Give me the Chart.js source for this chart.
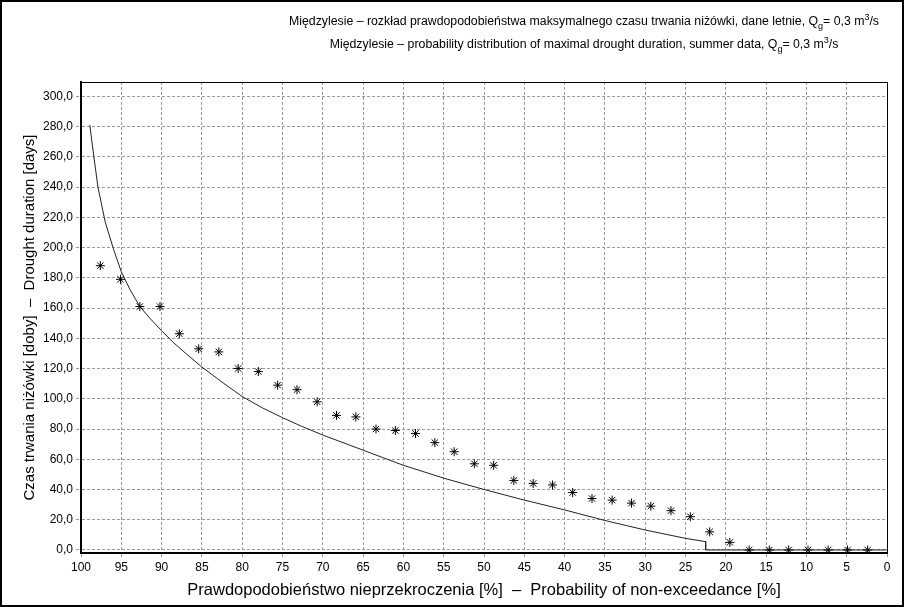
<!DOCTYPE html>
<html>
<head>
<meta charset="utf-8">
<script src="https://cdn.jsdelivr.net/npm/chart.js@4.4.1/dist/chart.umd.min.js"></script>
<style>
  html, body { margin: 0; padding: 0; background: #fff; }
  canvas { display: block; }
</style>
</head>
<body>
<canvas id="chart" width="904" height="607"></canvas>
<script>
const FONT = "'Liberation Sans', Arial, sans-serif";

// Observed summer maxima: plotting position [%] and drought duration [days]
const observedProbability = [97.6, 95.1, 92.7, 90.2, 87.8, 85.4, 82.9, 80.5, 78.0, 75.6,
                             73.2, 70.7, 68.3, 65.9, 63.4, 61.0, 58.5, 56.1, 53.7, 51.2,
                             48.8, 46.3, 43.9, 41.5, 39.0, 36.6, 34.1, 31.7, 29.3, 26.8,
                             24.4, 22.0, 19.5, 17.1, 14.6, 12.2, 9.8, 7.3, 4.9, 2.4];
const observedDuration = [188, 179, 161, 161, 143, 133, 131, 120, 118, 109,
                          106, 98, 89, 88, 80, 79, 77, 71, 65, 57,
                          56, 46, 44, 43, 38, 34, 33, 31, 29, 26,
                          22, 12, 5, 0, 0, 0, 0, 0, 0, 0];

// Fitted distribution curve (drops to zero at the probability of no drought)
const fittedProbability = [98.9, 98.6, 98.4, 97.9, 97.0, 96.0, 95.0, 93.9, 92.7, 91.5,
                           90.0, 88.5, 87.0, 85.0, 82.5, 80.0, 77.5, 75.0, 72.5, 70.0,
                           65.0, 60.0, 55.0, 50.0, 45.0, 40.0, 35.0, 30.0, 25.0, 22.5,
                           22.5, 0.0];
const fittedDuration = [281, 268, 260, 240, 217, 199.5, 184, 172, 161, 153.5,
                        145, 137, 130, 121, 111, 101.5, 94, 87.5, 81.5, 76,
                        66, 56, 47.5, 40, 33, 26.5, 19.5, 13.2, 7.7, 5.5,
                        0, 0];

// Axis ranges and tick steps
const xRange = [0, 100];
const xStep = 5;
const yRange = [-2, 309.5];
const yStep = 20;

// Two-line title; 'sub' / 'sup' parts are drawn as indices
const titleLines = [
  [['Międzylesie – rozkład prawdopodobieństwa maksymalnego czasu trwania niżówki, dane letnie, Q', ''], ['g', 'sub'], ['= 0,3 m', ''], ['3', 'sup'], ['/s', '']],
  [['Międzylesie – probability distribution of maximal drought duration, summer data, Q', ''], ['g', 'sub'], ['= 0,3 m', ''], ['3', 'sup'], ['/s', '']]
];
const xTitle = 'Prawdopodobieństwo nieprzekroczenia [%]  –  Probability of non-exceedance [%]';
const yTitle = 'Czas trwania niżówki [doby]  –  Drought duration [days]';

const points = observedProbability.map((x, i) => ({ x, y: observedDuration[i] }));
const curve = fittedProbability.map((x, i) => ({ x, y: fittedDuration[i] }));

const frameAndTitle = {
  id: 'frameAndTitle',
  afterDraw(chart) {
    const ctx = chart.ctx;
    const a = chart.chartArea;
    ctx.save();
    // outer border of the figure
    ctx.strokeStyle = '#000';
    ctx.lineWidth = 2;
    ctx.strokeRect(1, 1, chart.width - 2, chart.height - 2);
    // top and right edges of the plot box
    ctx.lineWidth = 1;
    ctx.beginPath();
    ctx.moveTo(a.left, Math.round(a.top) + 0.5);
    ctx.lineTo(a.right + 0.5, Math.round(a.top) + 0.5);
    ctx.lineTo(Math.round(a.right) + 0.5, a.bottom);
    ctx.stroke();

    // title
    const big = '12.3px ' + FONT;
    const small = '9px ' + FONT;
    const cx = 584;
    const baselines = [25, 48];
    ctx.fillStyle = '#000';
    ctx.textBaseline = 'alphabetic';
    ctx.textAlign = 'left';
    titleLines.forEach((parts, li) => {
      let w = 0;
      parts.forEach(([t, k]) => { ctx.font = k ? small : big; w += ctx.measureText(t).width; });
      let x = cx - w / 2;
      parts.forEach(([t, k]) => {
        ctx.font = k ? small : big;
        const dy = k === 'sub' ? 4 : (k === 'sup' ? -5 : 0);
        ctx.fillText(t, x, baselines[li] + dy);
        x += ctx.measureText(t).width;
      });
    });
    ctx.restore();
  }
};

const gridStyle = {
  color: '#9a9a9a',
  lineWidth: 1,
  tickLength: 5,
  tickColor: '#9a9a9a',
  tickBorderDash: [3, 2]
};
const axisBorder = { display: true, color: '#000', width: 2, dash: [3, 2] };

new Chart(document.getElementById('chart'), {
  type: 'scatter',
  data: {
    datasets: [
      {
        label: 'fitted',
        type: 'line',
        data: curve,
        borderColor: '#222',
        borderWidth: 1,
        pointRadius: 0,
        tension: 0,
        fill: false,
        order: 2
      },
      {
        label: 'observed',
        data: points,
        pointStyle: 'star',
        pointRadius: 4.5,
        borderColor: '#000',
        backgroundColor: '#000',
        borderWidth: 1,
        order: 1
      }
    ]
  },
  options: {
    responsive: false,
    animation: false,
    devicePixelRatio: 1,
    layout: { padding: { top: 82, right: 17, bottom: 0, left: 0 } },
    plugins: {
      legend: { display: false },
      title: { display: false },
      tooltip: { enabled: false }
    },
    scales: {
      x: {
        type: 'linear',
        reverse: true,
        min: xRange[0],
        max: xRange[1],
        ticks: {
          stepSize: xStep,
          includeBounds: false,
          color: '#000',
          padding: 2,
          maxRotation: 0,
          font: { family: FONT, size: 12 },
          callback: v => String(v)
        },
        grid: gridStyle,
        border: axisBorder,
        title: {
          display: true,
          text: xTitle,
          color: '#000',
          font: { family: FONT, size: 16.5 },
          padding: { top: 0, bottom: 7 }
        },
        afterFit: s => { s.height = 54; }
      },
      y: {
        type: 'linear',
        min: yRange[0],
        max: yRange[1],
        ticks: {
          stepSize: yStep,
          includeBounds: false,
          color: '#000',
          padding: 3,
          font: { family: FONT, size: 12 },
          callback: v => Number(v).toFixed(1).replace('.', ',')
        },
        grid: gridStyle,
        border: axisBorder,
        title: {
          display: true,
          text: yTitle,
          color: '#000',
          font: { family: FONT, size: 15 },
          padding: { top: 21, bottom: 0 }
        },
        afterFit: s => { s.width = 81; }
      }
    }
  },
  plugins: [frameAndTitle]
});
</script>
</body>
</html>
